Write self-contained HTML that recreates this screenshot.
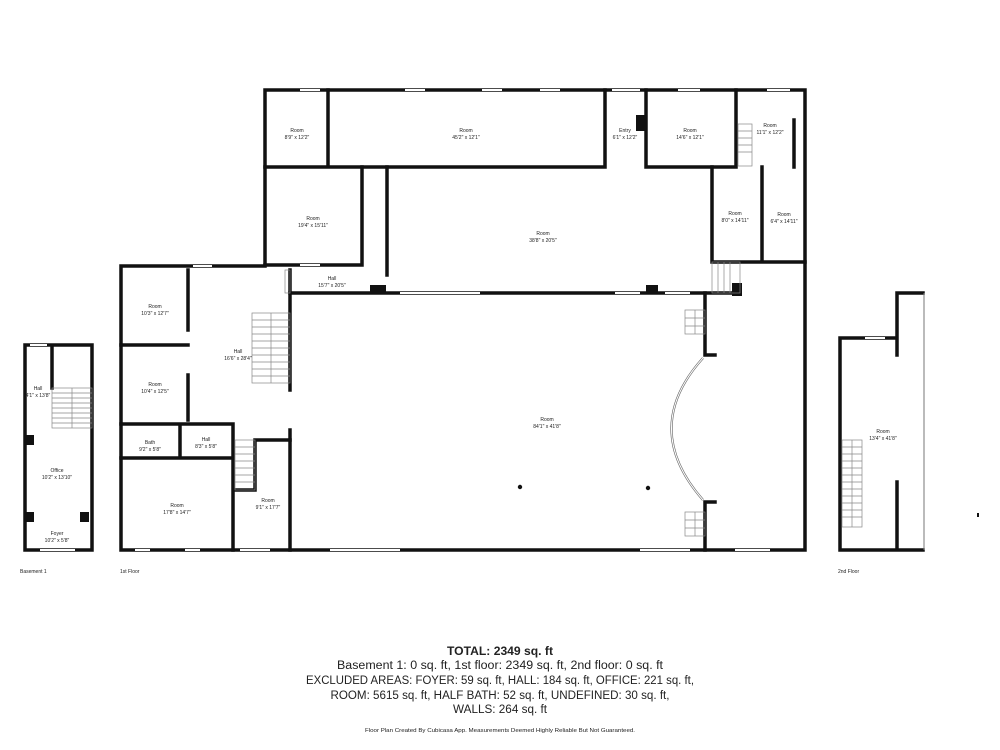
<!DOCTYPE html>
<html><head><meta charset="utf-8"><style>
html,body{margin:0;padding:0;background:#fff}
svg{display:block}
text{font-family:"Liberation Sans",sans-serif;fill:#222}
.l{font-size:5px;fill:#555}
</style></head><body>
<svg width="1000" height="750" viewBox="0 0 1000 750" xmlns="http://www.w3.org/2000/svg">
<g stroke="#111" stroke-width="3.5" fill="none" stroke-linecap="square">
<path d="M265 90 H805 V550 H121 V266 H265 Z"/>
<path d="M265 167 H605 M646 167 H736 M328 90 V167 M605 90 V167 M646 90 V167 M736 90 V167 M794 120 V167"/>
<path d="M362 167 V265 M265 265 H362 M387 167 V275 M290 293 H740 M712 167 V262 H805 M762 167 V262"/>
<path d="M290 270 V390 M290 430 V550 M705 293 V355 H715 M705 502 V550 M705 502 H715"/>
<path d="M121 345 H188 M188 270 V330 M188 375 V420 M121 424 H233 M121 458 H233 M180 424 V458 M233 424 V550 M255 440 V490 H233 M255 440 H290"/>
<path d="M25 345 H92 V550 H25 Z M52 345 V388"/>
<path d="M840 338 H897 V293 H923 M840 338 V550 H923 M897 293 V355 M897 482 V550"/>
</g>
<line x1="924" y1="293" x2="924" y2="550" stroke="#777" stroke-width="1"/>
<g stroke="#fff" stroke-width="2">
<line x1="300" y1="90" x2="320" y2="90"/><line x1="405" y1="90" x2="425" y2="90"/><line x1="482" y1="90" x2="502" y2="90"/><line x1="540" y1="90" x2="560" y2="90"/>
<line x1="612" y1="90" x2="640" y2="90"/><line x1="678" y1="90" x2="700" y2="90"/><line x1="767" y1="90" x2="790" y2="90"/>
<line x1="400" y1="293" x2="480" y2="293"/><line x1="615" y1="293" x2="640" y2="293"/><line x1="665" y1="293" x2="690" y2="293"/>
<line x1="135" y1="550" x2="150" y2="550"/><line x1="185" y1="550" x2="200" y2="550"/><line x1="240" y1="550" x2="270" y2="550"/>
<line x1="330" y1="550" x2="400" y2="550"/><line x1="640" y1="550" x2="690" y2="550"/><line x1="735" y1="550" x2="770" y2="550"/>
<line x1="30" y1="345" x2="47" y2="345"/><line x1="40" y1="550" x2="75" y2="550"/><line x1="865" y1="338" x2="885" y2="338"/>
<line x1="193" y1="266" x2="212" y2="266"/><line x1="300" y1="265" x2="320" y2="265"/>
</g>
<g fill="#111">
<rect x="636" y="115" width="9" height="16"/><rect x="370" y="285" width="16" height="9"/><rect x="646" y="285" width="12" height="9"/><rect x="732" y="283" width="10" height="13"/>
<rect x="25" y="435" width="9" height="10"/><rect x="25" y="512" width="9" height="10"/><rect x="80" y="512" width="9" height="10"/>
<circle cx="520" cy="487" r="2.2"/><circle cx="648" cy="488" r="2.2"/><rect x="977" y="513" width="2" height="4"/>
</g>
<g stroke="#888" stroke-width="0.7" fill="none">
<rect x="252" y="313" width="38" height="70"/><path d="M252 320 H290 M252 327 H290 M252 334 H290 M252 341 H290 M252 348 H290 M252 355 H290 M252 362 H290 M252 369 H290 M252 376 H290 M271 313 V383"/>
<rect x="235" y="440" width="20" height="50"/><path d="M235 447 H255 M235 454 H255 M235 461 H255 M235 468 H255 M235 475 H255 M235 482 H255"/>
<rect x="52" y="388" width="40" height="40"/><path d="M52 393 H92 M52 398 H92 M52 403 H92 M52 408 H92 M52 413 H92 M52 418 H92 M52 423 H92 M72 388 V428"/>
<rect x="738" y="124" width="14" height="42"/><path d="M738 131 H752 M738 138 H752 M738 145 H752 M738 152 H752"/>
<rect x="712" y="262" width="28" height="31"/><path d="M718 262 V293 M724 262 V293 M730 262 V293"/>
<rect x="685" y="310" width="20" height="24"/><path d="M685 318 H705 M685 326 H705 M695 310 V334"/>
<rect x="685" y="512" width="20" height="24"/><path d="M685 520 H705 M685 528 H705 M695 512 V536"/>
<rect x="842" y="440" width="20" height="87"/><path d="M842 447 H862 M842 454 H862 M842 461 H862 M842 468 H862 M842 475 H862 M842 482 H862 M842 489 H862 M842 496 H862 M842 503 H862 M842 510 H862 M842 517 H862 M852 440 V527"/>
<rect x="285" y="270" width="5" height="23"/>
<path d="M703 358 Q640 428 703 500" stroke="#666" stroke-width="2.2"/>
<path d="M703 358 Q640 428 703 500" stroke="#fff" stroke-width="1"/>
</g>
<g class="l" text-anchor="middle">
<text x="297" y="132">Room</text><text x="297" y="139">8'9" x 12'2"</text>
<text x="466" y="132">Room</text><text x="466" y="139">45'2" x 12'1"</text>
<text x="625" y="132">Entry</text><text x="625" y="139">6'1" x 12'2"</text>
<text x="690" y="132">Room</text><text x="690" y="139">14'6" x 12'1"</text>
<text x="770" y="127">Room</text><text x="770" y="134">11'1" x 12'2"</text>
<text x="313" y="220">Room</text><text x="313" y="227">19'4" x 15'11"</text>
<text x="543" y="235">Room</text><text x="543" y="242">38'8" x 20'5"</text>
<text x="735" y="215">Room</text><text x="735" y="222">8'0" x 14'11"</text>
<text x="784" y="216">Room</text><text x="784" y="223">6'4" x 14'11"</text>
<text x="332" y="280">Hall</text><text x="332" y="287">15'7" x 20'5"</text>
<text x="155" y="308">Room</text><text x="155" y="315">10'3" x 12'7"</text>
<text x="238" y="353">Hall</text><text x="238" y="360">16'6" x 28'4"</text>
<text x="155" y="386">Room</text><text x="155" y="393">10'4" x 12'5"</text>
<text x="150" y="444">Bath</text><text x="150" y="451">9'2" x 5'8"</text>
<text x="206" y="441">Hall</text><text x="206" y="448">8'3" x 5'8"</text>
<text x="177" y="507">Room</text><text x="177" y="514">17'8" x 14'7"</text>
<text x="268" y="502">Room</text><text x="268" y="509">9'1" x 17'7"</text>
<text x="547" y="421">Room</text><text x="547" y="428">84'1" x 41'8"</text>
<text x="38" y="390">Hall</text><text x="38" y="397">4'1" x 13'8"</text>
<text x="57" y="472">Office</text><text x="57" y="479">10'2" x 13'10"</text>
<text x="57" y="535">Foyer</text><text x="57" y="542">10'2" x 5'8"</text>
<text x="883" y="433">Room</text><text x="883" y="440">13'4" x 41'8"</text>
</g>
<g class="l"><text x="20" y="573">Basement 1</text><text x="120" y="573">1st Floor</text><text x="838" y="573">2nd Floor</text></g>
<g text-anchor="middle">
<text x="500" y="655" font-size="12" font-weight="bold" textLength="106" lengthAdjust="spacingAndGlyphs">TOTAL: 2349 sq. ft</text>
<text x="500" y="669" font-size="11.5" textLength="326" lengthAdjust="spacingAndGlyphs">Basement 1: 0 sq. ft, 1st floor: 2349 sq. ft, 2nd floor: 0 sq. ft</text>
<text x="500" y="684" font-size="11.5" textLength="388" lengthAdjust="spacingAndGlyphs">EXCLUDED AREAS: FOYER: 59 sq. ft, HALL: 184 sq. ft, OFFICE: 221 sq. ft,</text>
<text x="500" y="699" font-size="11.5" textLength="339" lengthAdjust="spacingAndGlyphs">ROOM: 5615 sq. ft, HALF BATH: 52 sq. ft, UNDEFINED: 30 sq. ft,</text>
<text x="500" y="713" font-size="11.5" textLength="94" lengthAdjust="spacingAndGlyphs">WALLS: 264 sq. ft</text>
<text x="500" y="732" font-size="5.5" fill="#444" textLength="270" lengthAdjust="spacingAndGlyphs">Floor Plan Created By Cubicasa App. Measurements Deemed Highly Reliable But Not Guaranteed.</text>
</g>
</svg>
</body></html>
